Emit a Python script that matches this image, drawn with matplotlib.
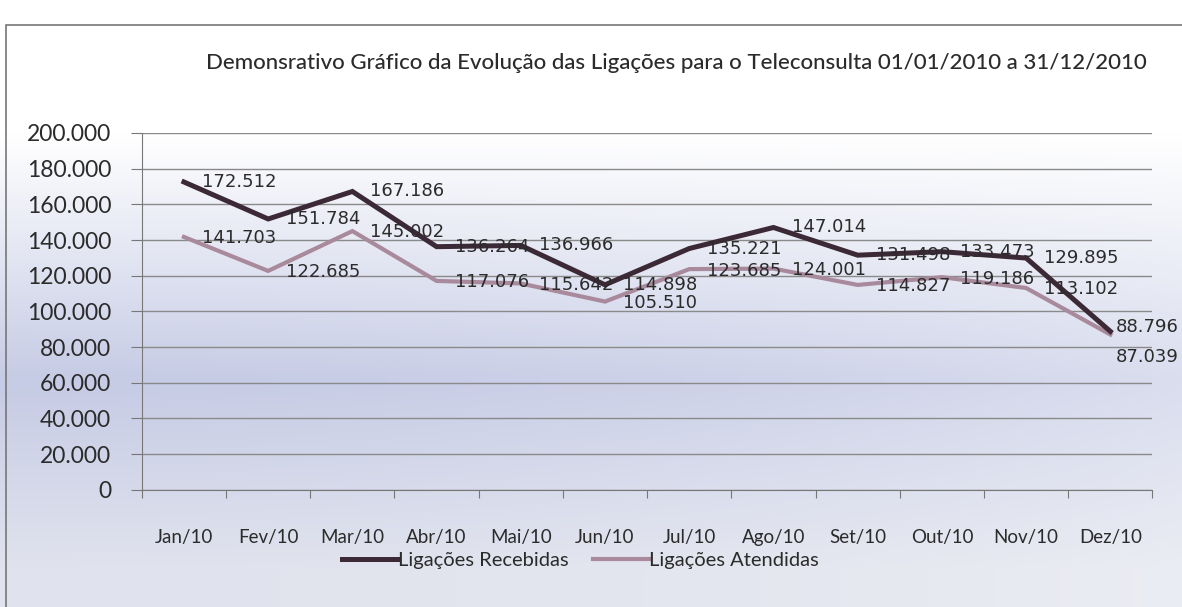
import numpy as np
import matplotlib
matplotlib.use("Agg")
import matplotlib.pyplot as plt
from matplotlib.patches import Rectangle

# dados
meses = ["Jan/10", "Fev/10", "Mar/10", "Abr/10", "Mai/10", "Jun/10",
         "Jul/10", "Ago/10", "Set/10", "Out/10", "Nov/10", "Dez/10"]
recebidas = [172512, 151784, 167186, 136264, 136966, 114898,
             135221, 147014, 131498, 133473, 129895, 88796]
atendidas = [141703, 122685, 145002, 117076, 115642, 105510,
             123685, 124001, 114827, 119186, 113102, 87039]

titulo = "Demonsrativo Gráfico da Evolução das Ligações para o Teleconsulta 01/01/2010 a 31/12/2010"
cor_rec = "#3b2a36"
cor_ate = "#a98a9c"
cor_txt = "#2b2b2b"


def fmt(v):
    # separador de milhar com ponto
    return f"{v:,}".replace(",", ".")


plt.rcParams['font.family'] = ['Lato', 'DejaVu Sans']

fig = plt.figure(figsize=(11.82, 6.07), dpi=100)

# fundo em degradê (branco em cima, azulado embaixo)
bg = fig.add_axes([0, 0, 1, 1], zorder=-10)
yy = np.linspace(0, 1, 300)[:, None]
xx = np.linspace(0, 1, 400)[None, :]
top = np.array([1.0, 1.0, 1.0])
mid = np.array([0.78, 0.80, 0.90])
bot = np.array([0.88, 0.89, 0.93])
t = np.clip((yy - 0.22) / 0.40, 0, 1)
t2 = np.clip((yy - 0.64) / 0.30, 0, 1)
col = top * (1 - t[..., None]) + mid * t[..., None]
col = col * (1 - t2[..., None]) + bot * t2[..., None]
col = col + (1 - col) * (0.35 * xx[..., None] ** 2)
bg.imshow(col, aspect="auto", extent=[0, 1, 0, 1], origin="upper")
bg.add_patch(Rectangle((0.005, -0.01), 1.2, 0.969, fill=False,
                       edgecolor="#777777", lw=1.2, transform=bg.transAxes))
bg.set_xlim(0, 1)
bg.set_ylim(0, 1)
bg.axis("off")

ax = fig.add_axes([0.120, 0.193, 0.855, 0.588])
ax.patch.set_alpha(0)
x = np.arange(len(meses))

ax.plot(x, recebidas, color=cor_rec, lw=3.6, label="Ligações Recebidas",
        solid_joinstyle="miter", zorder=4)
ax.plot(x, atendidas, color=cor_ate, lw=3.0, label="Ligações Atendidas",
        solid_joinstyle="miter", zorder=3)

ultimo = len(meses) - 1
for i in range(len(meses)):
    dx = 4 if i == ultimo else 13
    ax.annotate(fmt(recebidas[i]), (x[i], recebidas[i]),
                xytext=(dx, 3 if i == ultimo else 0),
                textcoords="offset points", ha="left", va="center",
                fontsize=13, color=cor_txt, family="DejaVu Sans", zorder=5)
    ax.annotate(fmt(atendidas[i]), (x[i], atendidas[i]),
                xytext=(dx, -16 if i == ultimo else -1),
                textcoords="offset points", ha="left", va="center",
                fontsize=13, color=cor_txt, family="DejaVu Sans", zorder=5)

ax.set_xlim(-0.5, 11.5)
ax.set_ylim(0, 200000)
ax.set_yticks(np.arange(0, 200001, 20000))
ax.set_yticklabels([fmt(v) for v in range(0, 200001, 20000)],
                   fontsize=16.5, color=cor_txt)
ax.yaxis.grid(True, color="#8a8a8a", lw=1.0)
ax.set_axisbelow(True)
ax.tick_params(axis="y", length=8, color="#777777", pad=14)

ax.set_xticks(np.arange(-0.5, 12, 1), minor=False)
ax.set_xticklabels([])
ax.set_xticks(x, minor=True)
ax.set_xticklabels(meses, minor=True, fontsize=13.5, color=cor_txt)
ax.tick_params(axis="x", which="major", length=6, color="#777777", direction="out")
ax.tick_params(axis="x", which="minor", length=0, pad=28)

for s in ["top", "right"]:
    ax.spines[s].set_visible(False)
ax.spines["left"].set_color("#777777")
ax.spines["bottom"].set_color("#777777")

fig.text(0.572, 0.897, titulo, ha="center", va="center", fontsize=16,
         color=cor_txt, fontweight="medium")

fig.legend(loc="center", bbox_to_anchor=(0.491, 0.077), ncol=2, frameon=False,
           fontsize=14.5, handlelength=2.8, handletextpad=0.0, columnspacing=1.2,
           labelcolor=cor_txt)

fig.savefig("out.png", dpi=100)
